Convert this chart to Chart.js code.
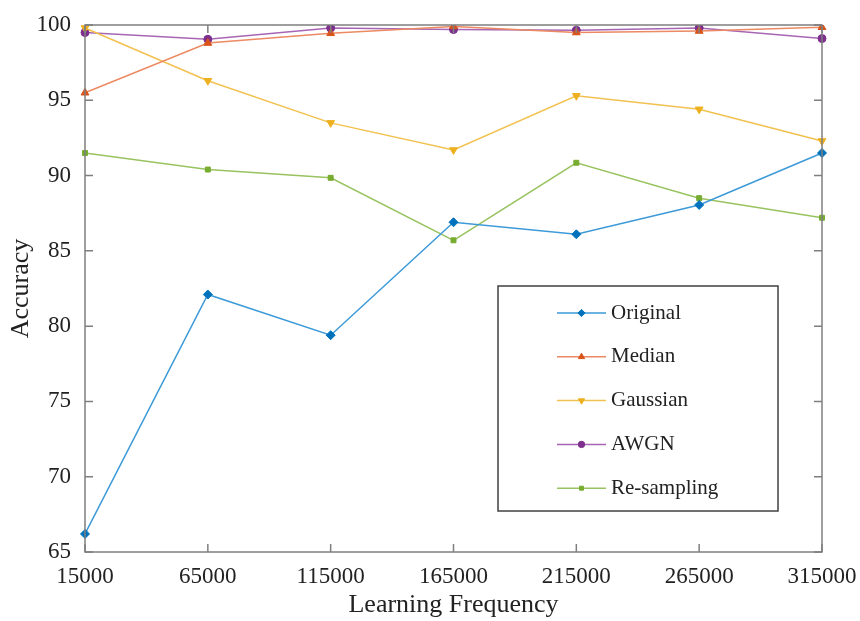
<!DOCTYPE html>
<html>
<head>
<meta charset="utf-8">
<script src="https://cdn.jsdelivr.net/npm/chart.js@4.4.1/dist/chart.umd.min.js"></script>
<style>
  html,body{margin:0;padding:0;background:#fff;}
  #wrap{width:860px;height:621px;position:relative;}
</style>
</head>
<body>
<div id="wrap"><canvas id="c" width="860" height="621"></canvas></div>
<script>
const categories = ['15000','65000','115000','165000','215000','265000','315000'];
const original   = [66.2, 82.1, 79.4, 86.9, 86.1, 88.05, 91.5];
const median     = [95.5, 98.8, 99.45, 99.9, 99.5, 99.6, 99.85];
const gaussian   = [99.8, 96.3, 93.5, 91.7, 95.3, 94.4, 92.3];
const awgn       = [99.5, 99.05, 99.8, 99.7, 99.65, 99.8, 99.1];
const resampling = [91.5, 90.4, 89.85, 85.7, 90.85, 88.5, 87.2];
const yTicks = [65, 70, 75, 80, 85, 90, 95, 100];

const FONT = '"Liberation Serif", "Times New Roman", serif';

function ds(label, data, color, lineColor, style, radius, rotation) {
  return {
    label, data,
    borderColor: lineColor,
    backgroundColor: color,
    pointBackgroundColor: color,
    pointBorderColor: color,
    pointStyle: style,
    pointRadius: radius,
    pointHoverRadius: radius,
    pointRotation: rotation || 0,
    pointBorderWidth: 1,
    borderWidth: 1.5,
    tension: 0,
    fill: false
  };
}

const datasets = [
  ds('Original', original, '#0072BD', '#3d9ad8', 'rectRot', 4.5),
  ds('Median', median, '#D95319', '#ec8a63', 'triangle', 4.5),
  ds('Gaussian', gaussian, '#EDB120', '#f2c150', 'triangle', 4.5, 180),
  ds('AWGN', awgn, '#7E2F8E', '#a766b3', 'circle', 4),
  ds('Re-sampling', resampling, '#77AC30', '#98c360', 'rect', 3.5)
];

const frame = {
  id: 'frame',
  afterDatasetsDraw(chart) {
    const ctx = chart.ctx;
    const a = chart.chartArea;
    const xs = chart.scales.x, ys = chart.scales.y;
    ctx.save();
    ctx.strokeStyle = '#7f7f7f';
    ctx.lineWidth = 1.5;
    ctx.strokeRect(a.left, a.top, a.right - a.left, a.bottom - a.top);
    ctx.beginPath();
    const tl = 8;
    categories.forEach((c, i) => {
      const x = xs.getPixelForValue(i);
      ctx.moveTo(x, a.bottom); ctx.lineTo(x, a.bottom - tl);
      ctx.moveTo(x, a.top); ctx.lineTo(x, a.top + tl);
    });
    yTicks.forEach(v => {
      const y = ys.getPixelForValue(v);
      ctx.moveTo(a.left, y); ctx.lineTo(a.left + tl, y);
      ctx.moveTo(a.right, y); ctx.lineTo(a.right - tl, y);
    });
    ctx.stroke();

    // legend
    const L = a.left + 413, T = a.top + 261, W = 280, H = 225;
    ctx.fillStyle = '#fff';
    ctx.fillRect(L, T, W, H);
    ctx.strokeStyle = '#404040';
    ctx.lineWidth = 1.5;
    ctx.strokeRect(L, T, W, H);
    chart.data.datasets.forEach((d, i) => {
      const y = T + 27 + i * 43.8;
      const x1 = L + 59, x2 = L + 108;
      ctx.strokeStyle = d.borderColor;
      ctx.lineWidth = 1.5;
      ctx.beginPath(); ctx.moveTo(x1, y); ctx.lineTo(x2, y); ctx.stroke();
      ctx.fillStyle = d.pointBackgroundColor;
      ctx.strokeStyle = d.pointBorderColor;
      ctx.lineWidth = 1;
      Chart.helpers.drawPoint(ctx, {pointStyle: d.pointStyle, radius: d.pointRadius * 0.8, rotation: d.pointRotation, borderWidth: 1}, (x1 + x2) / 2, y);
      ctx.fillStyle = '#222';
      ctx.font = '21px ' + FONT;
      ctx.textAlign = 'left';
      ctx.textBaseline = 'middle';
      ctx.fillText(d.label, x2 + 5, y);
    });
    ctx.restore();
  }
};

new Chart(document.getElementById('c'), {
  type: 'line',
  data: { labels: categories, datasets },
  options: {
    responsive: false,
    animation: false,
    events: [],
    layout: { padding: { left: 0, top: 25, right: 38, bottom: 0 } },
    plugins: { legend: { display: false }, tooltip: { enabled: false } },
    scales: {
      x: {
        type: 'category',
        offset: false,
        grid: { display: false },
        border: { display: false },
        ticks: { color: '#222', font: { family: FONT, size: 23 }, padding: 3, maxRotation: 0, autoSkip: false },
        title: { display: true, text: 'Learning Frequency', color: '#222', font: { family: FONT, size: 26 }, padding: { top: 0, bottom: 0 } },
        afterFit(s) { s.height = 69; }
      },
      y: {
        min: 65, max: 100,
        grid: { display: false },
        border: { display: false },
        afterBuildTicks(s) { s.ticks = yTicks.map(v => ({ value: v })); },
        ticks: { color: '#222', font: { family: FONT, size: 23 }, padding: 6 },
        title: { display: true, text: 'Accuracy', color: '#222', font: { family: FONT, size: 26 }, padding: { top: 6, bottom: 0 } },
        afterFit(s) { s.width = 85; }
      }
    }
  },
  plugins: [frame]
});
</script>
</body>
</html>
